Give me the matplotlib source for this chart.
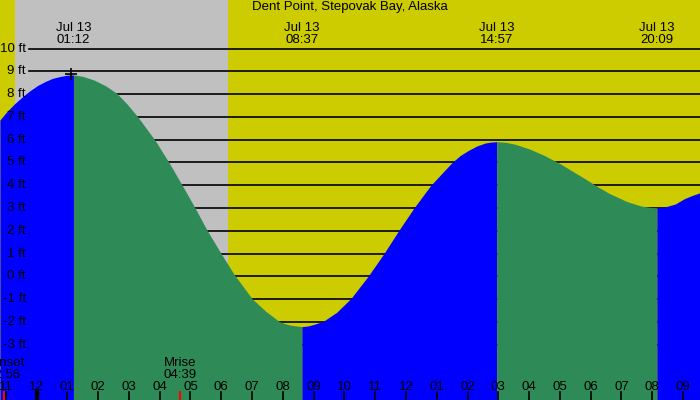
"""
Tide chart: Dent Point, Stepovak Bay, Alaska (Jul 13).
Saves out.png (700x400).
"""
import numpy as np
import matplotlib
matplotlib.use("Agg")
import matplotlib.pyplot as plt

plt.rcParams["font.family"] = ["Liberation Sans", "DejaVu Sans"]

# ---------------------------------------------------------------------------
# Data (hours relative to Jul 13 00:00, heights in ft)
# ---------------------------------------------------------------------------
title = "Dent Point, Stepovak Bay, Alaska"

curve_hours = [-1.19, -0.95, -0.70, -0.45, -0.21, 0.04, 0.28, 0.52, 0.76, 1.00,
               1.20, 1.50, 1.88, 2.25, 2.61, 2.95, 3.30, 3.85, 4.30, 4.73,
               5.15, 5.54, 5.99, 6.42, 7.00, 7.44, 7.88, 8.05, 8.23, 8.62,
               8.82, 9.01, 9.31, 9.75, 10.22, 10.77, 11.29, 11.77, 12.26, 12.81,
               13.50, 13.76, 14.02, 14.30, 14.57, 14.75, 14.95, 15.25, 15.54,
               16.03, 16.50, 17.00, 17.40, 17.82, 18.17, 18.60, 19.18, 19.60,
               19.90, 20.15, 20.45, 20.74, 21.06, 21.30, 21.55]
curve_heights = [6.86, 7.25, 7.59, 7.89, 8.15, 8.38, 8.55, 8.69, 8.77, 8.83,
                 8.84, 8.78, 8.61, 8.36, 8.03, 7.55, 6.98, 5.97, 5.00, 4.00,
                 3.00, 2.02, 1.01, 0.08, -0.98, -1.53, -1.98, -2.07, -2.14, -2.21,
                 -2.18, -2.11, -1.98, -1.58, -0.96, 0.00, 1.01, 2.02, 3.00, 4.00,
                 5.00, 5.30, 5.52, 5.72, 5.85, 5.89, 5.91, 5.88, 5.80,
                 5.58, 5.30, 4.95, 4.62, 4.28, 3.98, 3.64, 3.28, 3.10,
                 3.03, 3.01, 3.06, 3.17, 3.42, 3.55, 3.67]

ext_hours = [1.20, 8.62, 14.95, 20.15]
ext_labels = ["01:12", "08:37", "14:57", "20:09"]
ext_date = "Jul 13"

ft_levels = list(range(-3, 11))

tick_hours = list(range(-1, 22))
tick_labels = ["11", "12", "01", "02", "03", "04", "05", "06", "07", "08",
               "09", "10", "11", "12", "01", "02", "03", "04", "05", "06",
               "07", "08", "09"]

night_start, night_end = -0.70, 6.22
sunset_hour, sunset_label = -1.067, "Sunset\n22:56"
moonrise_hour, moonrise_label = 4.65, "Mrise\n04:39"
marker_hour, marker_height = 1.12, 8.88

# ---------------------------------------------------------------------------
# Layout / style
# ---------------------------------------------------------------------------
XLIM = (-1.186, 21.55)
YLIM = (-5.43, 12.13)
YELLOW = "#cccc00"
GRAY = "#c0c0c0"
BLUE = "#0000ff"
GREEN = "#2e8b57"
FS = 9.5

fig = plt.figure(figsize=(7, 4), dpi=100)
ax = fig.add_axes([0, 0, 1, 1])
ax.set_xlim(*XLIM)
ax.set_ylim(*YLIM)
ax.axis("off")
ax.add_patch(plt.Rectangle((XLIM[0], YLIM[0]), XLIM[1] - XLIM[0],
                           YLIM[1] - YLIM[0], color=YELLOW, zorder=0))
ax.axvspan(night_start, night_end, color=GRAY, zorder=0.5, lw=0)

# grid lines (behind the water)
for lv in ft_levels:
    ax.plot([-0.244, XLIM[1]], [lv, lv], color="black", lw=1.2, zorder=1)

# tide fill: blue rising, green falling
h = np.array(curve_hours)
v = np.array(curve_heights)
bounds = [XLIM[0] - 1] + ext_hours + [XLIM[1] + 1]
for i in range(len(bounds) - 1):
    m = (h >= bounds[i]) & (h <= bounds[i + 1])
    col = BLUE if i % 2 == 0 else GREEN
    ax.fill_between(h[m], v[m], YLIM[0], color=col, lw=0, zorder=2)

# ft labels
for lv in ft_levels:
    ax.text(-0.342, lv, f"{lv} ft", ha="right", va="center", fontsize=FS,
            zorder=5)

# header: extremes
for eh, el in zip(ext_hours, ext_labels):
    ax.text(eh, 10.92, ext_date, ha="center", va="center", fontsize=FS, zorder=5)
    ax.text(eh, 10.37, el, ha="center", va="center", fontsize=FS, zorder=5)
ax.text(np.mean(XLIM), 11.82, title, ha="center", va="center", fontsize=FS,
        zorder=5)

ax.plot(marker_hour, marker_height, marker="+", ms=9, mew=1.2, color="black",
        zorder=6)

# bottom hour ticks
for th, tl in zip(tick_hours, tick_labels):
    ax.text(th, -4.85, tl, ha="center", va="center", fontsize=FS, zorder=5)
    lw = 3 if th == 0 else 1.2
    ax.plot([th, th], [-5.10, YLIM[0]], color="black", lw=lw, zorder=5)

for eh, el in [(sunset_hour, sunset_label), (moonrise_hour, moonrise_label)]:
    ax.plot([eh, eh], [-5.10, YLIM[0]], color="red", lw=1.5, zorder=5)
    ax.text(eh, -4.08, el, ha="center", va="center", fontsize=FS,
            linespacing=0.95, zorder=5)

fig.savefig("out.png", dpi=100)
plt.close(fig)
